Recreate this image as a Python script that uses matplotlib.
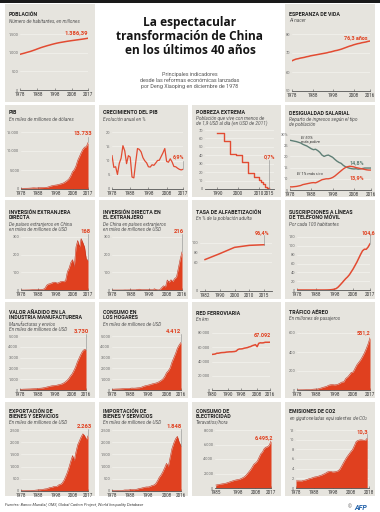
import matplotlib
matplotlib.use("Agg")
import matplotlib.pyplot as plt
from matplotlib.patches import Rectangle

plt.rcParams['font.family'] = ['Roboto', 'DejaVu Sans']

# ---------------- data ----------------
pop_years = list(range(1978, 2018))
pop_millions = [956, 969, 981, 994, 1008, 1021, 1034, 1050, 1066, 1083,
                1101, 1118, 1135, 1150, 1164, 1178, 1192, 1204, 1218, 1230,
                1242, 1253, 1263, 1272, 1280, 1288, 1296, 1304, 1311, 1318,
                1325, 1331, 1338, 1344, 1351, 1357, 1364, 1371, 1379, 1386.39]

life_years = list(range(1978, 2017))
life_exp = [65.9, 66.4, 66.8, 67.0, 67.3, 67.5, 67.7, 68.0, 68.2, 68.5,
            68.7, 68.9, 69.1, 69.3, 69.5, 69.7, 69.9, 70.1, 70.4, 70.6,
            70.9, 71.2, 71.4, 71.7, 72.0, 72.4, 72.8, 73.2, 73.6, 73.9,
            74.3, 74.6, 74.9, 75.1, 75.4, 75.6, 75.8, 76.1, 76.3]

gdp_years = list(range(1978, 2018))
gdp_bn = [150, 178, 191, 196, 205, 230, 260, 309, 301, 273,
          312, 348, 361, 383, 427, 445, 564, 734, 864, 962,
          1029, 1094, 1211, 1339, 1471, 1660, 1955, 2286, 2752, 3552,
          4598, 5110, 6087, 7552, 8532, 9570, 10439, 11016, 11138, 12238]

growth_years = list(range(1978, 2018))
growth_pct = [11.7, 7.6, 7.8, 5.1, 9.0, 10.8, 15.2, 13.4, 8.9, 11.7,
              11.2, 4.2, 3.9, 9.3, 14.2, 13.9, 13.0, 11.0, 9.9, 9.2,
              7.8, 7.7, 8.5, 8.3, 9.1, 10.0, 10.1, 11.4, 12.7, 14.2,
              9.7, 9.4, 10.6, 9.5, 7.9, 7.8, 7.3, 6.9, 6.7, 6.9]

poverty_years = [1990, 1993, 1996, 1999, 2002, 2005, 2008, 2010, 2011, 2012, 2013, 2014, 2015]
poverty_pct = [66.2, 57.0, 42.0, 40.2, 31.7, 18.5, 14.7, 11.2, 7.9, 6.5, 1.9, 1.4, 0.7]

ineq_years = list(range(1978, 2017))
bottom50_pct = [27.2, 27.0, 26.8, 26.6, 26.3, 26.0, 25.4, 25.0, 24.6, 24.0,
                23.4, 23.0, 23.2, 22.6, 21.8, 20.6, 20.0, 20.4, 20.6, 20.1,
                19.6, 18.7, 17.9, 17.3, 16.9, 16.0, 15.4, 15.0, 14.7, 14.5,
                14.4, 14.5, 14.3, 14.4, 14.6, 14.8, 14.8, 14.8, 14.8]
top1_pct = [6.4, 6.4, 6.5, 6.6, 6.8, 7.0, 7.4, 7.6, 7.8, 8.0,
            8.2, 8.3, 8.2, 8.6, 9.1, 9.6, 9.8, 10.0, 10.0, 10.2,
            10.6, 11.2, 12.0, 12.8, 13.6, 14.4, 15.0, 15.4, 15.6, 15.5,
            15.3, 15.0, 14.8, 14.6, 14.4, 14.2, 14.0, 13.9, 13.9]

fdi_in_years = list(range(1978, 2018))
fdi_in_bn = [0, 0, 0.06, 0.27, 0.43, 0.64, 1.26, 1.66, 1.88, 2.31,
             3.19, 3.39, 3.49, 4.37, 11.16, 27.5, 33.8, 35.8, 40.2, 44.2,
             43.8, 38.8, 42.1, 47.1, 49.3, 47.1, 54.9, 104.1, 124.1, 156.2,
             171.5, 131.1, 243.7, 280.1, 241.2, 290.9, 268.1, 242.5, 174.7, 168.2]

fdi_out_years = list(range(1978, 2017))
fdi_out_bn = [0, 0, 0, 0, 0.04, 0.09, 0.13, 0.63, 0.45, 0.65,
              0.85, 0.78, 0.83, 0.91, 4.0, 4.4, 2.0, 2.0, 2.1, 2.6,
              2.6, 1.8, 0.9, 6.9, 2.5, 0.2, 1.8, 13.7, 23.9, 17.2,
              56.7, 43.9, 58.0, 48.4, 65.0, 73.0, 123.1, 174.4, 216.4]

literacy_years = [1982, 1990, 2000, 2010, 2015]
literacy_pct = [65.5, 77.8, 90.9, 95.1, 96.4]

mobile_years = list(range(1978, 2018))
mobile_per100 = [0, 0, 0, 0, 0, 0, 0, 0, 0, 0,
                 0, 0, 0, 0, 0, 0.05, 0.13, 0.3, 0.56, 1.07,
                 1.9, 3.4, 6.7, 11.2, 15.9, 20.8, 25.6, 29.6, 34.6, 41.2,
                 47.8, 55.5, 63.2, 72.1, 80.8, 88.7, 92.3, 92.2, 97.3, 104.6]

manuf_years = list(range(1978, 2017))
manuf_bn = [60, 70, 80, 85, 90, 95, 100, 110, 115, 120,
            140, 160, 170, 190, 220, 260, 300, 340, 380, 400,
            420, 440, 480, 520, 560, 640, 740, 880, 1050, 1300,
            1500, 1800, 2150, 2600, 2950, 3300, 3600, 3750, 3730]

cons_years = list(range(1978, 2017))
cons_bn = [70, 80, 90, 95, 100, 110, 120, 140, 140, 140,
           160, 180, 170, 180, 200, 210, 250, 320, 380, 420,
           460, 500, 560, 600, 640, 690, 780, 890, 1020, 1250,
           1600, 1780, 2060, 2580, 2980, 3390, 3870, 4180, 4412]

rail_years = list(range(1980, 2017))
rail_km = [49940, 50180, 50530, 51600, 51630, 52119, 52487, 52600, 52767, 53200,
           53378, 53600, 53600, 53800, 54000, 54616, 56678, 57566, 57584, 57923,
           58656, 59079, 59530, 60446, 61015, 62200, 62900, 63637, 60809, 65491,
           66239, 66050, 66298, 66989, 66989, 67000, 67092]

air_years = list(range(1978, 2018))
air_mpass = [1.2, 1.6, 1.9, 2.1, 2.5, 3.1, 4.0, 5.2, 7.0, 9.2,
             10.5, 10.6, 16.6, 21.8, 28.9, 33.8, 40.4, 51.2, 55.5, 56.3,
             53.8, 55.9, 62.0, 72.7, 84.0, 86.0, 121.2, 136.7, 159.7, 185.8,
             190.4, 229.1, 266.3, 292.1, 318.5, 352.8, 390.9, 436.2, 487.9, 551.2]

exp_years = list(range(1978, 2018))
exp_bn = [10, 13.7, 18.1, 22, 22.3, 22.2, 26.1, 27.3, 30.9, 39.4,
          47.5, 52.5, 62.1, 71.8, 85.5, 91.7, 121, 147, 151, 182,
          183, 194, 253, 272, 330, 441, 598, 770, 990, 1232,
          1451, 1249, 1603, 1898, 2056, 2219, 2343, 2273, 2099, 2263]

imp_years = list(range(1978, 2017))
imp_bn = [11, 15.6, 20, 22, 19.3, 21.4, 28.1, 42.5, 43.2, 43.2,
          55.3, 59.1, 53.3, 63.8, 80.6, 104, 116, 135, 154, 167,
          166, 190, 225, 244, 295, 413, 561, 660, 792, 956,
          1133, 1006, 1380, 1737, 1960, 2140, 2240, 2000, 1848]

elec_years = list(range(1985, 2018))
elec_twh = [411, 451, 499, 547, 585, 623, 680, 759, 843, 926,
            1002, 1076, 1128, 1160, 1231, 1347, 1463, 1642, 1903, 2197,
            2494, 2859, 3272, 3454, 3703, 4193, 4700, 4959, 5420, 5634,
            5694, 5920, 6495.2]

co2_years = list(range(1978, 2018))
co2_gt = [1.46, 1.49, 1.47, 1.45, 1.56, 1.64, 1.76, 1.91, 2.00, 2.13,
          2.27, 2.33, 2.42, 2.55, 2.67, 2.86, 3.02, 3.29, 3.41, 3.42,
          3.32, 3.34, 3.41, 3.55, 3.89, 4.54, 5.23, 5.90, 6.49, 7.00,
          7.51, 7.98, 8.78, 9.65, 9.86, 9.96, 9.96, 9.89, 9.85, 10.3]

# ---------------- style ----------------
W, H = 380, 512
PANEL = '#e6e4de'
RED = '#e0401f'
RED_EDGE = '#c7301a'
RED_LINE = '#e24b32'
TEAL = '#5f7f76'
TXT = '#1e1e1e'
SUB = '#555555'
TICK = '#6a6a6a'

fig = plt.figure(figsize=(W / 100, H / 100), dpi=100)
bg = fig.add_axes([0, 0, 1, 1])
bg.set_xlim(0, W)
bg.set_ylim(H, 0)
bg.axis('off')

bg.add_patch(Rectangle((0, 0), W, 2.5, color='#1a1a1a', lw=0))

cols = [(5, 95), (99, 188), (192, 281), (285, 375)]
rows = [(4, 102), (105, 197), (200, 299), (302, 398), (402, 496)]


def panel(c, r, titles, subs, t_y, s_y):
    x0, x1 = cols[c]
    y0, y1 = rows[r]
    bg.add_patch(Rectangle((x0, y0), x1 - x0, y1 - y0, color=PANEL, lw=0, zorder=0))
    for i, t in enumerate(titles):
        bg.text(x0 + 4, t_y + 5.3 * i, t, fontsize=3.8, fontweight='bold', color=TXT, va='baseline')
    for i, s in enumerate(subs):
        bg.text(x0 + 4, s_y + 5 * i, s, fontsize=3.4, style='italic', color=SUB, va='baseline')


def chart(x0, x1, ytop, ybot, xlim, ylim, xticks, yticks, ylabels, xlabels=None):
    ax = fig.add_axes([x0 / W, 1 - ybot / H, (x1 - x0) / W, (ybot - ytop) / H])
    ax.set_xlim(*xlim)
    ax.set_ylim(*ylim)
    ax.patch.set_visible(False)
    for s in ax.spines.values():
        s.set_visible(False)
    ax.set_yticks(yticks)
    ax.set_yticklabels(ylabels)
    ax.set_xticks(xticks)
    ax.set_xticklabels(xlabels if xlabels else [str(t) for t in xticks])
    ax.tick_params(axis='y', length=0, pad=1.2, labelsize=2.9, labelcolor=TICK)
    ax.tick_params(axis='x', length=1.3, width=0.4, direction='in', pad=1.3,
                   labelsize=3.3, labelcolor='#333333', color='#555555')
    for t in yticks[1:]:
        ax.axhline(t, color='#f7f6f2', lw=0.4, zorder=0)
    ax.axhline(ylim[0], color='#555555', lw=0.6, zorder=4, clip_on=False)
    return ax


def area(ax, x, y):
    ax.fill_between(x, y, color=RED, lw=0, zorder=2)
    ax.plot(x, y, color=RED_EDGE, lw=0.4, zorder=3)


def value(ax, x, y, text, color=RED, ha='center', size=4.2):
    ax.text(x, y, text, color=color, fontsize=size, fontweight='bold',
            ha=ha, va='center', clip_on=False, zorder=6)


def leader(ax, x, ya, yb):
    ax.plot([x, x], [ya, yb], color='#8c8c8c', lw=0.4, clip_on=False, zorder=5)


# ---------------- header ----------------
bg.text(190, 16, "La espectacular\ntransformación de China\nen los últimos 40 años",
        ha='center', va='top', fontsize=8.6, fontweight='bold', family='Open Sans',
        color='#151515', linespacing=1.08)
bg.text(190, 72, "Principales indicadores\ndesde las reformas económicas lanzadas\npor Deng Xiaoping en diciembre de 1978",
        ha='center', va='top', fontsize=3.9, color='#555555', linespacing=1.25)

# ---------------- row 0 ----------------
panel(0, 0, ["POBLACIÓN"], ["Número de habitantes, en millones"], 16, 23)
ax = chart(20, 88, 34, 90, (1978, 2017), (0, 1500), [1978, 1988, 1998, 2008, 2017],
           [0, 500, 1000, 1500], ['0', '500', '1.000', '1.500'])
ax.plot(pop_years, pop_millions, color=RED_LINE, lw=1.1, zorder=3)
value(ax, 2017, 1540, "1.386,39", ha='right')

panel(3, 0, ["ESPERANZA DE VIDA"], ["Al nacer"], 16, 22)
ax = chart(292, 370, 34, 91, (1978, 2016), (50, 80), [1978, 1988, 1998, 2008, 2016],
           [50, 60, 70, 80], ['50', '60', '70', '80'])
ax.plot(life_years, life_exp, color=RED_LINE, lw=1.1, zorder=3)
value(ax, 2015, 78.2, "76,3 años", ha='right', size=3.9)

# ---------------- row 1 ----------------
panel(0, 1, ["PIB"], ["En miles de millones de dólares"], 114, 121)
ax = chart(21, 88, 132, 189, (1978, 2017), (0, 15000), [1978, 1988, 1998, 2008, 2017],
           [0, 5000, 10000, 15000], ['0', '5.000', '10.000', '15.000'])
area(ax, gdp_years, gdp_bn)
leader(ax, 2017, gdp_bn[-1], 13700)
value(ax, 2014, 14600, "13.733")

panel(1, 1, ["CRECIMIENTO DEL PIB"], ["Evolución anual en %"], 114, 121)
ax = chart(112, 183, 132, 189, (1978, 2017), (0, 20), [1978, 1988, 1998, 2008, 2017],
           [0, 5, 10, 15, 20], ['0', '5', '10', '15', '20'])
ax.plot(growth_years, growth_pct, color=RED_LINE, lw=0.9, zorder=3)
leader(ax, 2017, growth_pct[-1], 10)
value(ax, 2014.5, 11.2, "6,9%", size=3.9)

panel(2, 1, ["POBREZA EXTREMA"],
      ["Población que vive con menos de", "de 1,9 USD al día (en USD de 2011)"], 114, 120)
ax = chart(205, 274, 130, 189, (1984, 2017.5), (0, 70), [1990, 2000, 2010, 2015],
           [0, 10, 20, 30, 40, 50, 60, 70], ['0', '10', '20', '30', '40', '50', '60', '70'])
ax.plot(poverty_years, poverty_pct, color=RED_LINE, lw=1.0, drawstyle='steps-post', zorder=3)
leader(ax, 2015, 0, 35)
value(ax, 2015.5, 38, "0,7%", size=3.9)

panel(3, 1, ["DESIGUALDAD SALARIAL"],
      ["Reparto de ingresos según el tipo", "de población"], 115, 121)
ax = chart(290, 371, 134, 190, (1978, 2016), (5, 30), [1978, 1988, 1998, 2008, 2016],
           [5, 10, 15, 20, 25, 30], ['5', '10', '15', '20', '25', '30%'])
ax.plot(ineq_years, bottom50_pct, color=TEAL, lw=1.0, zorder=3)
ax.plot(ineq_years, top1_pct, color=RED_LINE, lw=1.0, zorder=3)
ax.text(1983, 29.3, "El 50%\nmás pobre", fontsize=3.0, style='italic', color='#333333',
        va='top', ha='left', linespacing=1.0)
ax.text(1981.5, 12.2, "El 1% más rico", fontsize=3.0, style='italic', color='#333333',
        va='center', ha='left')
value(ax, 2009.5, 17.3, "14,8%", color=TEAL, size=3.9)
value(ax, 2009.5, 10.6, "13,9%", size=3.9)

# ---------------- row 2 ----------------
panel(0, 2, ["INVERSIÓN EXTRANJERA", "DIRECTA"],
      ["De países extranjeros en China", "en miles de millones de USD"], 214, 226)
ax = chart(21, 88, 237, 290, (1978, 2017), (0, 300), [1978, 1988, 1998, 2008, 2017],
           [0, 100, 200, 300], ['0', '100', '200', '300'])
area(ax, fdi_in_years, fdi_in_bn)
leader(ax, 2017, fdi_in_bn[-1], 318)
value(ax, 2015.5, 330, "168")

panel(1, 2, ["INVERSIÓN DIRECTA EN", "EL EXTRANJERO"],
      ["De China en países extranjeros", "en miles de millones de USD"], 214, 226)
ax = chart(112, 182, 237, 290, (1978, 2016), (0, 300), [1978, 1988, 1998, 2008, 2016],
           [0, 100, 200, 300], ['0', '100', '200', '300'])
area(ax, fdi_out_years, fdi_out_bn)
leader(ax, 2016, fdi_out_bn[-1], 318)
value(ax, 2014.5, 330, "216")

# literacy points are spaced evenly along the axis, as in the original
panel(2, 2, ["TASA DE ALFABETIZACIÓN"], ["En % de la población adulta"], 214, 220)
lit_pos = list(range(len(literacy_years)))
ax = chart(200, 272, 243, 291, (-0.34, 4.54), (0, 100), lit_pos,
           [0, 60, 80, 100], ['0', '60', '80', '100'],
           xlabels=[str(y) for y in literacy_years])
ax.plot(lit_pos, literacy_pct, color=RED_LINE, lw=1.1, zorder=3)
leader(ax, lit_pos[-1], literacy_pct[-1], 116)
value(ax, lit_pos[-1] - 0.1, 121, "96,4%", size=3.9)

panel(3, 2, ["SUSCRIPCIONES A LÍNEAS", "DE TELÉFONO MÓVIL"], ["Por cada 100 habitantes"], 214, 226)
ax = chart(297, 370, 237, 290, (1978, 2017), (0, 120), [1978, 1988, 1998, 2008, 2017],
           [0, 20, 40, 60, 80, 100, 120], ['0', '20', '40', '60', '80', '100', '120'])
ax.plot(mobile_years, mobile_per100, color=RED_LINE, lw=1.1, zorder=3)
leader(ax, 2017, mobile_per100[-1], 126)
value(ax, 2016, 130, "104,6", size=3.9)

# ---------------- row 3 ----------------
panel(0, 3, ["VALOR AÑADIDO EN LA", "INDUSTRIA MANUFACTURERA"],
      ["Manufacturas y envíos", "En miles de millones de USD"], 314, 326)
ax = chart(20, 86, 336, 390, (1978, 2016), (0, 5000), [1978, 1988, 1998, 2008, 2016],
           [0, 1000, 2000, 3000, 4000, 5000], ['0', '1.000', '2.000', '3.000', '4.000', '5.000'])
area(ax, manuf_years, manuf_bn)
leader(ax, 2016, manuf_bn[-1], 5150)
value(ax, 2013.5, 5380, "3.730")

panel(1, 3, ["CONSUMO EN", "LOS HOGARES"], ["En miles de millones de USD"], 314, 326)
ax = chart(112, 181, 336, 390, (1978, 2016), (0, 5000), [1978, 1988, 1998, 2008, 2016],
           [0, 1000, 2000, 3000, 4000, 5000], ['0', '1.000', '2.000', '3.000', '4.000', '5.000'])
area(ax, cons_years, cons_bn)
leader(ax, 2016, cons_bn[-1], 5150)
value(ax, 2016.3, 5380, "4.412", ha='right')

panel(2, 3, ["RED FERROVIARIA"], ["En km"], 315, 321)
ax = chart(212, 270, 333, 390, (1980, 2016), (0, 80000), [1980, 1990, 1998, 2008, 2016],
           [0, 20000, 40000, 60000, 80000], ['0', '20.000', '40.000', '60.000', '80.000'])
ax.plot(rail_years, rail_km, color=RED_LINE, lw=1.1, zorder=3)
value(ax, 2016.8, 77000, "67.092", ha='right', size=3.9)

panel(3, 3, ["TRÁFICO AÉREO"], ["En millones de pasajeros"], 314, 320)
ax = chart(297, 370, 333, 390, (1978, 2017), (0, 600), [1978, 1988, 1998, 2008, 2017],
           [0, 200, 400, 600], ['0', '200', '400', '600'])
area(ax, air_years, air_mpass)
value(ax, 2017.5, 600, "551,2", ha='right', size=3.9)

# ---------------- row 4 ----------------
panel(0, 4, ["EXPORTACIÓN DE", "BIENES Y SERVICIOS"], ["En miles de millones de USD"], 413, 424)
ax = chart(21, 88, 430, 491, (1978, 2017), (0, 2500), [1978, 1988, 1998, 2008, 2017],
           [0, 500, 1000, 1500, 2000, 2500], ['0', '500', '1.000', '1.500', '2.000', '2.500'])
area(ax, exp_years, exp_bn)
leader(ax, 2017, exp_bn[-1], 2560)
value(ax, 2015, 2660, "2.263")

panel(1, 4, ["IMPORTACIÓN DE", "BIENES Y SERVICIOS"], ["En miles de millones de USD"], 413, 424)
ax = chart(112, 181, 430, 491, (1978, 2016), (0, 2500), [1978, 1988, 1998, 2008, 2016],
           [0, 500, 1000, 1500, 2000, 2500], ['0', '500', '1.000', '1.500', '2.000', '2.500'])
area(ax, imp_years, imp_bn)
leader(ax, 2016, imp_bn[-1], 2560)
value(ax, 2016.3, 2660, "1.848", ha='right')

panel(2, 4, ["CONSUMO DE", "ELECTRICIDAD"], ["Teravatios/hora"], 413, 423)
ax = chart(215, 271, 430, 488, (1984.5, 2017), (0, 8000), [1985, 1998, 2008, 2017],
           [0, 2000, 4000, 6000, 8000], ['0', '2.000', '4.000', '6.000', '8.000'])
area(ax, elec_years, elec_twh)
value(ax, 2018.5, 6950, "6.495,2", ha='right', size=3.9)

panel(3, 4, ["EMISIONES DE CO2"], ["en gigatoneladas equivalentes de CO$_2$"], 413, 420)
ax = chart(296, 369, 430, 488, (1978, 2018), (0, 12), [1978, 1988, 1998, 2008, 2018],
           [0, 2, 4, 6, 8, 10, 12], ['0', '2', '4', '6', '8', '10', '12'])
area(ax, co2_years, co2_gt)
leader(ax, 2017, co2_gt[-1], 11.2)
value(ax, 2014.5, 11.6, "10,3")

# ---------------- footer ----------------
bg.text(5, 505, "Fuentes: Banco Mundial, OMS, Global Carbon Project, World Inequality Database",
        fontsize=2.9, style='italic', color='#444444', va='center')
bg.text(352, 507, "©", fontsize=3.5, color='#555555', va='center', ha='right')
bg.text(354, 507, "AFP", fontsize=5, fontweight='bold', style='italic', color='#1f5fa8', va='center')

fig.savefig('out.png', dpi=100)
